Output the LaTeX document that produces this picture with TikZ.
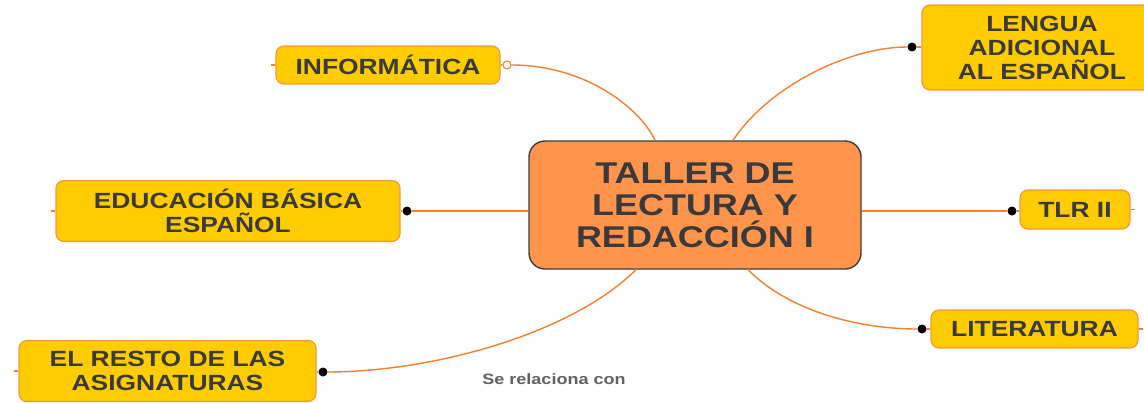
\documentclass[tikz,border=0pt]{standalone}
\usepackage{fontspec}
\setmainfont{Liberation Sans}
\setsansfont[FakeStretch=1.2]{Liberation Sans}
\usetikzlibrary{positioning}
\definecolor{topicfill}{RGB}{255,204,0}
\definecolor{topicline}{RGB}{248,150,60}
\definecolor{mainfill}{RGB}{255,148,77}
\definecolor{mainline}{RGB}{60,60,60}
\definecolor{maintext}{RGB}{58,58,58}
\definecolor{linkcol}{RGB}{244,128,48}

\begin{document}
\begin{tikzpicture}[x=1pt, y=-1pt,
  every node/.style={font=\sffamily\bfseries, text=maintext},
  topic/.style={rounded corners=8pt, draw=topicline, line width=1.2pt, fill=topicfill, align=center, inner sep=0pt, font=\sffamily\bfseries\fontsize{22}{24}\selectfont},
  maintopic/.style={rounded corners=16pt, draw=mainline, line width=1.4pt, fill=mainfill, align=center, inner sep=0pt, minimum width=332pt, minimum height=128pt, font=\sffamily\bfseries\fontsize{30}{32}\selectfont},
  link/.style={draw=linkcol, line width=1.4pt},
  dot/.style={circle, fill=black, inner sep=0pt, minimum size=9pt},
  hollow/.style={circle, draw=linkcol, fill=white, line width=1.1pt, inner sep=0pt, minimum size=8pt},
]
\useasboundingbox (0,0) rectangle (1144,402);
\fill[white] (0,0) rectangle (1144,402);

\node[maintopic] (main) at (695,205) {TALLER DE\\LECTURA Y\\REDACCIÓN I};

\node[topic, minimum width=224pt, minimum height=38pt] (info) at (388,65) {INFORMÁTICA};
\node[topic, minimum width=344pt, minimum height=61pt] (edu) at (228,211) {EDUCACIÓN BÁSICA\\ESPAÑOL};
\node[topic, minimum width=297pt, minimum height=61pt] (resto) at (167.5,371) {EL RESTO DE LAS\\ASIGNATURAS};
\node[topic, minimum width=240pt, minimum height=85pt] (lengua) at (1042,47.5) {LENGUA\\ADICIONAL\\AL ESPAÑOL};
\node[topic, minimum width=110pt, minimum height=39pt] (tlr) at (1075,209.5) {TLR II};
\node[topic, minimum width=207pt, minimum height=38pt] (lit) at (1034.5,329) {LITERATURA};

\node[hollow] (hinfo) at (507,65) {};
\node[dot] (dedu) at (407,211) {};
\node[dot] (dresto) at (323,372) {};
\node[dot] (dlengua) at (912,47) {};
\node[dot] (dtlr) at (1012,211) {};
\node[dot] (dlit) at (922,329) {};

% links from the main topic
\draw[link] ([xshift=-40pt]main.north) .. controls (640,108) and (585,65) .. (hinfo);
\draw[link] (hinfo) -- (info.east);
\draw[link] (main.west |- dedu) -- (dedu);
\draw[link] (dedu) -- (edu.east |- dedu);
\draw[link] ([xshift=-59pt]main.south) .. controls (570,335) and (430,372) .. (dresto);
\draw[link] (dresto) -- (resto.east |- dresto);
\draw[link] ([xshift=38pt]main.north) .. controls (770,85) and (850,47) .. (dlengua);
\draw[link] (dlengua) -- (lengua.west |- dlengua);
\draw[link] (main.east |- dtlr) -- (dtlr);
\draw[link] (dtlr) -- (tlr.west |- dtlr);
\draw[link] ([xshift=53pt]main.south) .. controls (790,312) and (860,329) .. (dlit);
\draw[link] (dlit) -- (lit.west);

% stubs
\draw[link] (info.west) -- ++(-4,0);
\draw[link] (edu.west) -- ++(-4,0);
\draw[link] (resto.west) -- ++(-4,0);
\draw[link] (tlr.east) -- ++(4,0);
\draw[link] (lit.east) -- ++(4,0);

\node[font=\sffamily\bfseries\fontsize{15}{17}\selectfont, text=maintext!80] (rel) at (554,379) {Se relaciona con};
\end{tikzpicture}
\end{document}
